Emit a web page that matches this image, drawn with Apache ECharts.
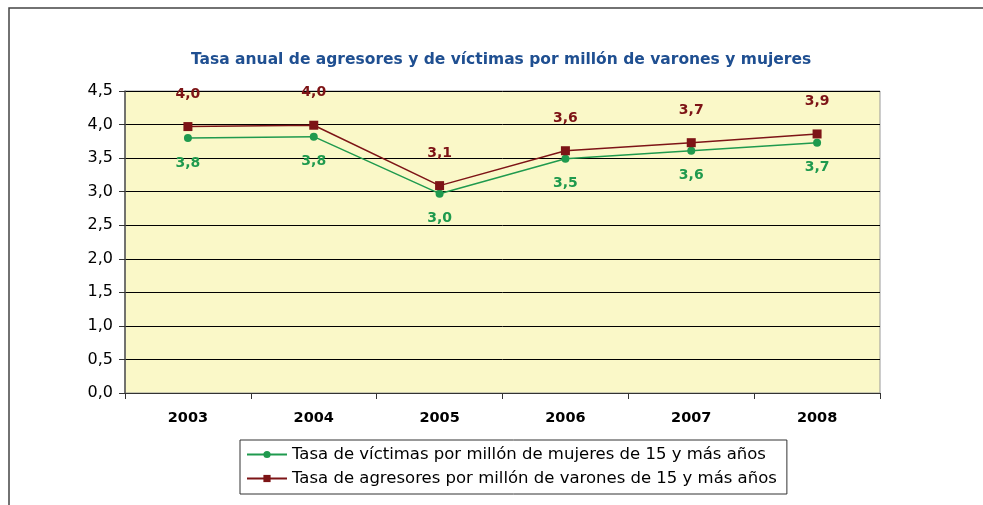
<!DOCTYPE html>
<html>
<head>
<meta charset="utf-8">
<script src="https://cdn.jsdelivr.net/npm/echarts@6/dist/echarts.min.js"></script>
<style>
  html, body { margin: 0; padding: 0; background: #fff; }
  #chart { width: 983px; height: 505px; }
</style>
</head>
<body>
<div id="chart"></div>
<script>
// datos
const years = ['2003', '2004', '2005', '2006', '2007', '2008']
const victimas = [3.80, 3.82, 2.97, 3.49, 3.61, 3.73]
const agresores = [3.97, 3.99, 3.09, 3.61, 3.73, 3.86]
const yTicks = [0, 0.5, 1, 1.5, 2, 2.5, 3, 3.5, 4, 4.5]

const verde = '#1f9a4e'
const granate = '#7d1416'
const fuente = 'DejaVu Sans'

const chart = echarts.init(document.getElementById('chart'))

function coma(v) {
  return v.toFixed(1).replace('.', ',')
}

const option = {
  animation: false,
  backgroundColor: '#fff',
  title: {
    text: 'Tasa anual de agresores y de víctimas por millón de varones y mujeres',
    left: 186,
    top: 47,
    textStyle: {
      color: '#1f4f91',
      fontFamily: fuente,
      fontWeight: 'bold',
      fontSize: 15.5
    }
  },
  graphic: [
    {
      type: 'polyline',
      shape: { points: [[9, 505], [9, 8], [983, 8]] },
      style: { stroke: '#444', lineWidth: 1.5, fill: null }
    }
  ],
  legend: {
    orient: 'vertical',
    left: 240,
    top: 440,
    padding: [6, 10, 7, 6],
    itemGap: 7,
    itemWidth: 40,
    itemHeight: 9,
    borderColor: '#333',
    borderWidth: 1,
    textStyle: {
      fontFamily: fuente,
      fontSize: 16.5,
      color: '#000'
    },
    data: [
      'Tasa de víctimas por millón de mujeres de 15 y más años',
      'Tasa de agresores por millón de varones de 15 y más años'
    ]
  },
  grid: {
    left: 125,
    right: 103,
    top: 91,
    bottom: 112,
    show: true,
    backgroundColor: '#faf8c8',
    borderColor: '#999',
    borderWidth: 1
  },
  xAxis: {
    type: 'category',
    data: years,
    boundaryGap: true,
    axisLine: { lineStyle: { color: '#333', width: 1 } },
    axisTick: { show: true, length: 6, lineStyle: { color: '#333' } },
    axisLabel: {
      margin: 18,
      color: '#000',
      fontFamily: fuente,
      fontWeight: 'bold',
      fontSize: 14.5
    }
  },
  yAxis: {
    type: 'value',
    min: 0,
    max: 4.5,
    interval: 0.5,
    axisLine: { show: true, lineStyle: { color: '#555', width: 1.5 } },
    axisTick: { show: true, length: 6, lineStyle: { color: '#333' } },
    splitLine: { lineStyle: { color: '#000', width: 1 } },
    axisLabel: {
      margin: 12,
      color: '#000',
      fontFamily: fuente,
      fontSize: 16,
      formatter: v => yTicks.indexOf(v) >= 0 ? coma(v) : ''
    }
  },
  series: [
    {
      name: 'Tasa de víctimas por millón de mujeres de 15 y más años',
      type: 'line',
      data: victimas,
      symbol: 'circle',
      symbolSize: 8,
      color: verde,
      lineStyle: { color: verde, width: 1.5 },
      itemStyle: { color: verde },
      label: {
        show: true,
        position: 'bottom',
        distance: 14,
        color: verde,
        fontFamily: fuente,
        fontWeight: 'bold',
        fontSize: 14,
        formatter: p => coma(p.value)
      }
    },
    {
      name: 'Tasa de agresores por millón de varones de 15 y más años',
      type: 'line',
      data: agresores,
      symbol: 'rect',
      symbolSize: 9,
      color: granate,
      lineStyle: { color: granate, width: 1.5 },
      itemStyle: { color: granate },
      label: {
        show: true,
        position: 'top',
        distance: 21,
        color: granate,
        fontFamily: fuente,
        fontWeight: 'bold',
        fontSize: 14,
        formatter: p => coma(p.value)
      }
    }
  ]
}

chart.setOption(option)
window.onresize = function () {
  chart.resize()
}
</script>
</body>
</html>
